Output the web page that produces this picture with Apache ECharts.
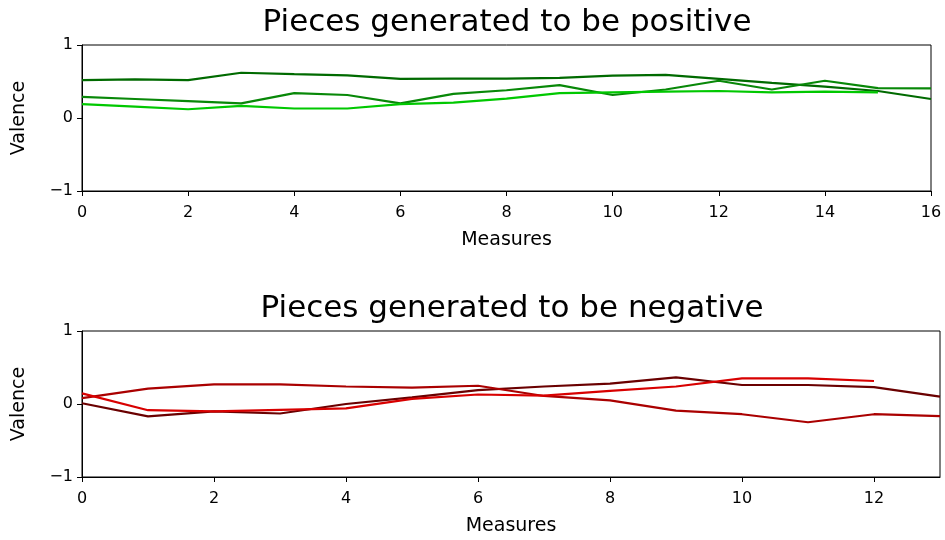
<!DOCTYPE html>
<html>
<head>
<meta charset="utf-8">
<script src="https://cdn.jsdelivr.net/npm/echarts@6/dist/echarts.min.js"></script>
<style>html,body{margin:0;padding:0;background:#fff}#c{width:945px;height:540px}</style>
</head>
<body>
<div id="c"></div>
<script>
// Top chart: pieces generated to be positive (measures 0..16)
const posA = [0.52, 0.53, 0.52, 0.62, 0.60, 0.585, 0.535, 0.54, 0.54, 0.55, 0.58, 0.59, 0.535, 0.48, 0.43, 0.37, 0.26];
const posB = [0.29, 0.26, 0.23, 0.20, 0.34, 0.315, 0.20, 0.33, 0.38, 0.45, 0.315, 0.39, 0.51, 0.39, 0.51, 0.41, 0.405];
const posC = [0.19, 0.155, 0.12, 0.165, 0.13, 0.13, 0.19, 0.21, 0.265, 0.34, 0.35, 0.36, 0.37, 0.35, 0.36, 0.35];
// Bottom chart: pieces generated to be negative (measures 0..13)
const negA = [0.01, -0.17, -0.10, -0.13, 0.0, 0.09, 0.19, 0.24, 0.28, 0.365, 0.26, 0.26, 0.23, 0.10];
const negB = [0.08, 0.21, 0.27, 0.27, 0.24, 0.225, 0.25, 0.11, 0.05, -0.09, -0.14, -0.25, -0.14, -0.165];
const negC = [0.146, -0.085, -0.10, -0.08, -0.06, 0.07, 0.13, 0.115, 0.18, 0.24, 0.35, 0.35, 0.315];
const titles = ['Pieces generated to be positive', 'Pieces generated to be negative'];
const xMax = [16, 13];
const xTicks = [[0, 2, 4, 6, 8, 10, 12, 14, 16], [0, 2, 4, 6, 8, 10, 12]];
const yTicks = [-1, 0, 1];

const FONT = 'DejaVu Sans';
const toPts = arr => arr.map((v, i) => [i, v]);
const fmtY = v => (v < 0 ? '\u2212' + Math.abs(v) : String(v));

const chart = echarts.init(document.getElementById('c'), null, {renderer: 'canvas'});
const grids = [
  {left: 82, right: 14, top: 45, height: 146, show: true, borderColor: '#000', borderWidth: 1, containLabel: false, outerBoundsMode: 'none'},
  {left: 82, right: 5, top: 331, height: 146, show: true, borderColor: '#000', borderWidth: 1, containLabel: false, outerBoundsMode: 'none'}
];
const labelStyle = {color: '#000', fontFamily: FONT, fontSize: 16};
const nameStyle = {color: '#000', fontFamily: FONT, fontSize: 19};
const xAxes = [0, 1].map(g => ({
  type: 'value', gridIndex: g, min: 0, max: xMax[g], interval: 2,
  name: 'Measures', nameLocation: 'middle', nameGap: 40, nameTextStyle: nameStyle,
  axisLine: {show: true, onZero: false, lineStyle: {color: '#000', width: 1}},
  axisTick: {show: true, inside: false, length: 5, customValues: xTicks[g], lineStyle: {color: '#000', width: 1}},
  splitLine: {show: false},
  axisLabel: Object.assign({}, labelStyle, {margin: 14, customValues: xTicks[g], hideOverlap: false})
}));
const yAxes = [0, 1].map(g => ({
  type: 'value', gridIndex: g, min: yTicks[0], max: yTicks[2], interval: 1,
  name: 'Valence', nameLocation: 'middle', nameGap: 53, nameRotate: 90, nameTextStyle: nameStyle,
  axisLine: {show: true, onZero: false, lineStyle: {color: '#000', width: 1}},
  axisTick: {show: true, inside: false, length: 5, lineStyle: {color: '#000', width: 1}},
  splitLine: {show: false},
  axisLabel: Object.assign({}, labelStyle, {margin: 9, formatter: fmtY})
}));
const mk = (data, color, g) => ({
  type: 'line', xAxisIndex: g, yAxisIndex: g, data: toPts(data), showSymbol: false,
  symbol: 'none', lineStyle: {color, width: 2.2}, itemStyle: {color}, animation: false, silent: true
});
chart.setOption({
  animation: false,
  title: [
    {text: titles[0], left: 502, top: 2, textAlign: 'center', textStyle: {fontFamily: FONT, fontSize: 31, fontWeight: 'normal', color: '#000'}},
    {text: titles[1], left: 507, top: 288, textAlign: 'center', textStyle: {fontFamily: FONT, fontSize: 31, fontWeight: 'normal', color: '#000'}}
  ],
  grid: grids,
  xAxis: xAxes,
  yAxis: yAxes,
  series: [
    mk(posA, '#006a00', 0), mk(posB, '#088808', 0), mk(posC, '#00c800', 0),
    mk(negA, '#6a0000', 1), mk(negB, '#aa0000', 1), mk(negC, '#d80000', 1)
  ]
});
</script>
</body>
</html>
